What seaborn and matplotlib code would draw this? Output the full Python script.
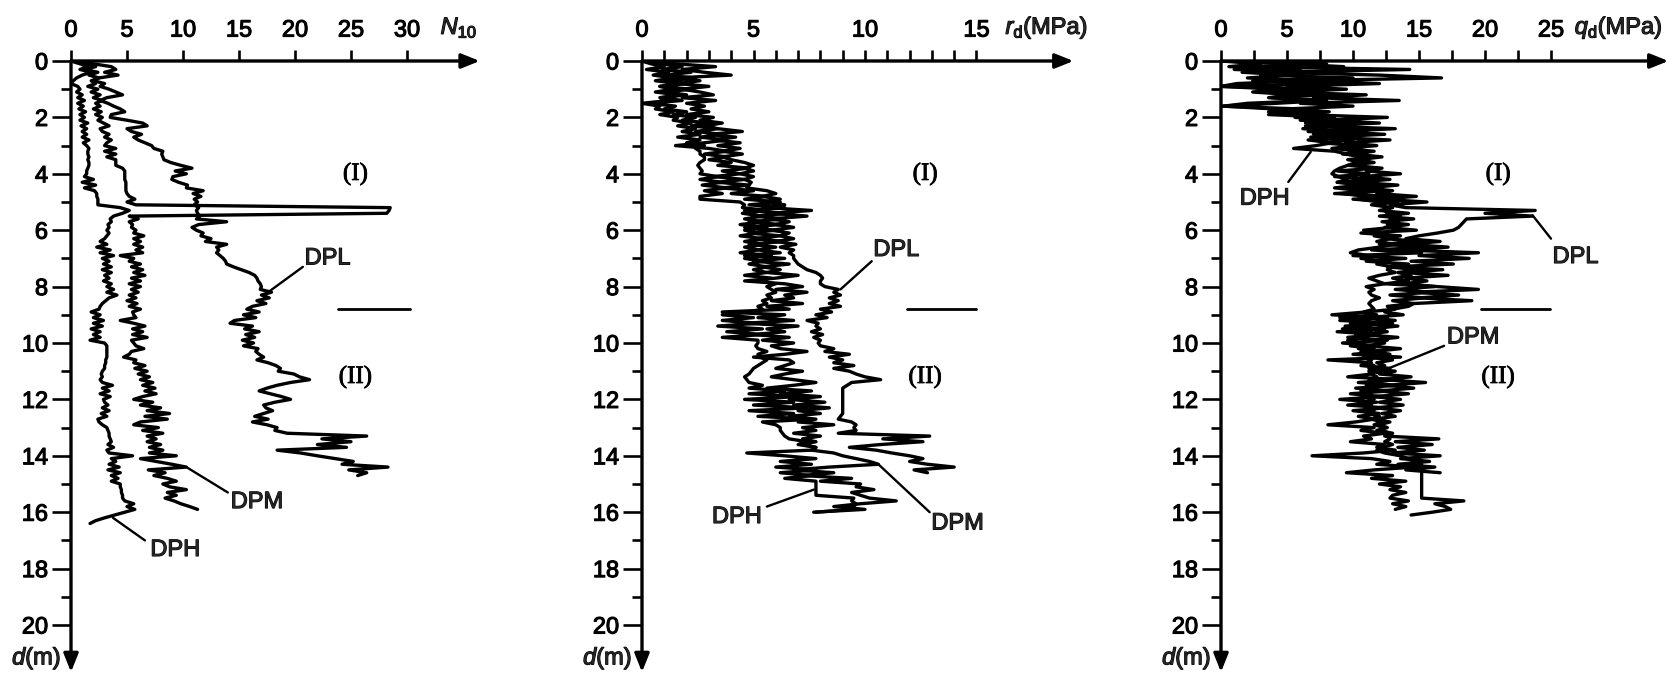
import numpy as np
import matplotlib
matplotlib.use("Agg")
import matplotlib.pyplot as plt
import matplotlib.patheffects as pe
import seaborn as sns

# profiles read every 0.1 m from the surface
DEPTH_STEP = 0.1

# N10 (blows)
n10_dpl = [0.3, 2.0, 3.6, 4.0, 3.0, 4.2, 2.5, 2.0, 3.0, 2.6,
           3.4, 4.0, 4.6, 3.2, 2.6, 3.3, 3.8, 4.4, 4.8, 3.6,
           3.5, 5.0, 6.4, 6.8, 5.0, 5.4, 6.3, 5.6, 6.0, 6.6,
           7.2, 7.4, 8.2, 8.1, 8.2, 8.3, 8.9, 9.8, 10.8, 9.3,
           10.3, 9.1, 9.0, 9.6, 10.4, 10.3, 11.8, 10.9, 11.6, 11.0,
           11.3, 11.0, 11.4, 11.2, 11.3, 11.5, 11.2, 13.9, 11.4, 10.8,
           11.2, 11.8, 11.6, 12.5, 12.0, 13.9, 13.0, 13.2, 13.0, 13.3,
           13.6, 13.8, 13.9, 14.5, 15.2, 15.9, 16.4, 16.6, 16.7, 16.9,
           17.0, 16.9, 17.9, 17.0, 17.7, 16.6, 17.4, 16.2, 15.7, 16.8,
           15.4, 16.5, 14.6, 14.2, 16.2, 15.5, 16.8, 15.6, 16.4, 15.3,
           16.3, 15.4, 16.7, 16.5, 16.8, 17.2, 16.6, 17.6, 18.3, 18.7,
           18.5, 19.9, 20.4, 21.3, 19.6, 18.4, 17.5, 16.8, 17.8, 18.8,
           19.6, 18.2, 17.2, 17.4, 18.0, 17.2, 16.4, 17.6, 16.2, 17.5,
           18.4, 18.2, 19.3, 26.4, 22.4, 25.0, 22.0, 24.6, 18.4, 20.5,
           22.0, 23.6, 25.2, 24.2, 28.3, 24.8, 26.4, 25.6]
n10_dpm = [0.2, 1.5, 2.2, 1.2, 2.4, 1.6, 2.5, 1.8, 2.2, 1.5,
           2.4, 1.8, 2.6, 2.0, 2.8, 2.2, 2.6, 2.0, 2.7, 2.2,
           2.8, 2.4, 2.9, 3.4, 2.6, 2.8, 3.4, 3.0, 3.6, 3.2,
           3.0, 4.0, 3.0, 4.0, 3.2, 4.0, 4.0, 4.0, 4.6, 4.8,
           4.8, 4.8, 4.8, 4.9, 4.9, 4.9, 4.9, 5.0, 5.2, 5.7,
           5.0, 5.8, 28.5, 28.4, 28.2, 5.2, 6.0, 5.2, 5.5, 5.4,
           5.8, 5.6, 6.5, 5.6, 6.2, 5.6, 6.4, 5.8, 6.4, 4.4,
           5.6, 5.2, 6.2, 5.4, 6.4, 5.6, 6.6, 5.4, 6.2, 5.2,
           6.2, 5.4, 6.0, 5.2, 5.8, 5.0, 5.9, 5.2, 6.2, 5.5,
           5.6, 5.8, 4.4, 5.6, 6.6, 5.5, 6.4, 5.5, 6.8, 5.4,
           5.6, 5.8, 6.5, 5.4, 5.2, 4.7, 5.8, 5.6, 6.6, 5.7,
           6.8, 6.0, 7.0, 6.2, 7.3, 6.4, 7.5, 6.6, 7.6, 6.4,
           5.6, 7.3, 6.2, 8.0, 6.8, 8.8, 6.6, 8.6, 6.2, 5.6,
           7.8, 6.4, 8.2, 6.8, 7.6, 6.8, 8.0, 7.0, 8.2, 7.0,
           9.4, 6.2, 7.6, 9.0, 10.3, 6.9, 8.4, 7.4, 8.6, 9.4,
           8.2, 8.8, 10.3, 8.6, 9.4, 8.4, 9.2, 9.8, 10.6, 11.3]
n10_dph = [0.0, 0.8, 1.5, 0.8, 1.8, 1.0, 0.5, 0.2, 0.0, 0.6,
           0.8, 0.5, 1.0, 0.6, 1.2, 0.6, 1.1, 0.7, 1.3, 0.8,
           1.2, 0.8, 1.5, 0.9, 1.4, 1.0, 1.4, 1.0, 1.6, 1.1,
           1.4, 1.6, 1.5, 1.5, 1.6, 1.5, 1.6, 1.6, 1.5, 1.4,
           1.4, 1.2, 2.0, 1.0, 2.2, 1.2, 2.1, 2.3, 2.3, 2.4,
           2.4, 2.4, 4.4, 5.2, 4.6, 3.8, 3.5, 3.6, 3.3, 3.4,
           3.2, 3.4, 3.2, 3.0, 2.6, 3.2, 2.3, 3.5, 2.6, 3.8,
           2.8, 3.4, 2.9, 3.6, 2.8, 3.6, 3.0, 3.4, 2.9, 3.6,
           3.2, 3.8, 3.2, 4.1, 3.4, 3.1, 2.8, 2.6, 2.5, 1.8,
           2.6, 2.0, 2.9, 2.0, 2.8, 1.8, 2.6, 2.0, 2.6, 1.7,
           3.0, 3.2, 3.2, 3.2, 3.2, 3.2, 3.1, 3.1, 3.0, 3.0,
           2.8, 2.7, 2.8, 2.6, 2.8, 3.7, 2.8, 3.4, 2.6, 3.5,
           2.9, 3.0, 3.3, 2.8, 3.4, 2.7, 3.2, 2.4, 2.5, 2.8,
           3.2, 3.3, 3.4, 3.4, 3.5, 3.6, 3.3, 3.8, 3.2, 3.4,
           5.5, 3.6, 4.0, 3.4, 4.3, 3.3, 4.4, 3.6, 4.2, 3.6,
           4.4, 4.4, 4.5, 4.5, 4.6, 4.6, 4.8, 5.6, 5.0, 5.7,
           4.8, 3.9, 3.0, 2.2, 1.7]

# rd (MPa)
rd_dpl = [0.2, 1.5, 3.3, 1.8, 2.8, 4.0, 1.5, 2.6, 1.6, 3.0,
          1.8, 2.6, 3.2, 1.8, 3.3, 2.0, 2.8, 2.2, 3.0, 2.0,
          3.2, 2.6, 3.6, 2.8, 3.4, 4.5, 3.0, 4.2, 3.2, 4.4,
          3.4, 4.4, 3.6, 4.5, 3.6, 4.0, 4.6, 5.0, 4.6, 5.0,
          4.4, 5.0, 4.6, 4.9, 4.8, 4.7, 5.6, 6.0, 5.4, 6.2,
          5.4, 6.4, 5.6, 7.6, 5.8, 7.4, 5.8, 6.6, 6.0, 6.8,
          5.8, 6.6, 6.2, 6.8, 6.0, 6.9, 6.2, 6.8, 6.6, 6.8,
          6.8, 6.9, 7.0, 7.2, 7.4, 7.8, 8.0, 8.1, 8.0, 8.0,
          8.2, 8.8, 8.6, 8.9, 8.4, 8.8, 8.4, 8.9, 8.0, 8.5,
          7.8, 8.3, 7.4, 7.9, 7.8, 8.0, 7.6, 8.1, 7.7, 8.0,
          7.9, 8.0, 8.6, 8.2, 9.3, 8.4, 9.0, 8.6, 9.5, 8.6,
          9.3, 9.6, 10.0, 10.7, 9.4, 9.2, 9.0, 9.0, 9.0, 9.0,
          9.0, 9.0, 9.0, 9.0, 9.0, 9.0, 8.9, 8.8, 9.4, 9.6,
          9.5, 9.6, 8.8, 12.9, 10.8, 12.6, 10.7, 9.3, 10.5, 11.2,
          12.0, 12.6, 12.0, 12.8, 14.0, 12.2, 12.8]
rd_dpm = [0.0, 0.8, 1.8, 0.9, 2.2, 1.0, 2.4, 1.2, 2.0, 0.8,
          2.2, 1.0, 2.0, 0.9, 1.8, 0.3, 1.5, 1.0, 2.0, 1.4,
          2.4, 1.8, 3.0, 2.2, 3.4, 2.4, 3.6, 2.6, 3.8, 2.8,
          1.5, 3.0, 3.8, 2.8, 3.8, 3.0, 4.0, 3.4, 4.8, 3.6,
          4.4, 3.2, 4.6, 3.4, 4.8, 3.6, 5.0, 4.0, 5.6, 4.6,
          6.2, 4.8, 6.4, 4.6, 6.6, 5.0, 6.4, 4.8, 6.2, 4.6,
          6.0, 4.8, 6.2, 5.0, 6.4, 4.8, 6.0, 5.2, 6.2, 4.6,
          6.4, 5.0, 6.6, 5.4, 6.2, 5.6, 7.0, 6.0, 4.6, 6.4,
          7.2, 6.0, 7.4, 6.4, 6.8, 5.8, 7.2, 5.6, 6.6, 3.6,
          6.4, 5.2, 6.8, 4.6, 7.0, 5.6, 6.4, 5.0, 6.6, 5.4,
          6.8, 5.8, 6.2, 7.4, 6.4, 5.0, 6.6, 6.8, 6.4, 6.0,
          7.2, 6.4, 5.8, 6.8, 7.8, 6.8, 5.6, 7.6, 6.2, 8.0,
          6.6, 8.2, 6.8, 8.4, 7.0, 8.0, 6.6, 7.8, 7.0, 8.6,
          7.2, 7.8, 6.8, 8.0, 7.2, 7.8, 7.2, 7.8, 7.6, 8.6,
          9.0, 9.6, 10.2, 10.6, 8.4, 6.8, 8.6, 7.2, 9.4, 8.0,
          9.8, 9.6, 10.4, 9.4, 9.8, 10.2, 11.4, 9.8, 8.6, 10.0,
          7.7]
rd_dph = [0.0, 0.4, 1.0, 0.2, 1.2, 0.5, 1.4, 0.6, 1.6, 0.8,
          1.4, 0.6, 1.6, 0.8, 1.2, 0.0, 0.8, 0.6, 1.4, 0.8,
          1.6, 1.4, 2.2, 1.6, 2.4, 1.8, 2.6, 1.6, 2.6, 2.0,
          2.8, 2.4, 2.6, 2.6, 2.8, 2.8, 2.6, 2.5, 2.6, 2.7,
          2.6, 3.4, 2.6, 3.6, 2.7, 3.8, 2.8, 3.6, 2.6, 2.6,
          4.4, 4.6, 4.5, 5.6, 4.5, 5.4, 4.6, 5.4, 4.4, 5.6,
          4.6, 5.2, 4.4, 5.4, 4.6, 5.6, 4.6, 5.2, 4.4, 5.8,
          4.6, 5.4, 4.8, 5.6, 5.0, 5.6, 4.6, 5.8, 5.2, 6.0,
          5.6, 5.8, 6.0, 5.6, 5.8, 5.4, 5.6, 5.2, 5.4, 4.8,
          3.6, 5.0, 3.6, 5.2, 3.4, 5.4, 3.8, 5.4, 3.6, 5.2,
          5.2, 5.1, 5.2, 5.6, 5.2, 5.3, 5.6, 5.4, 5.2, 5.0,
          4.9, 4.8, 4.6, 4.7, 4.8, 5.4, 4.8, 6.4, 4.8, 7.0,
          4.6, 6.8, 5.0, 7.4, 4.8, 6.8, 5.2, 7.6, 5.4, 6.0,
          6.2, 6.2, 6.3, 6.4, 6.6, 7.4, 7.0, 7.8, 7.6, 4.7,
          6.4, 7.8, 6.2, 7.6, 6.0, 7.8, 6.2, 7.6, 6.4, 7.8,
          7.8, 7.8, 7.8, 7.8, 7.8, 9.5, 9.4, 9.6, 9.5, 9.4,
          7.8]

# qd (MPa)
qd_dpl = [0.5, 8.0, 2.0, 14.3, 4.0, 12.0, 16.7, 6.0, 12.0, 5.0,
          9.5, 4.6, 11.0, 7.0, 13.5, 6.0, 10.0, 5.0, 8.2, 6.0,
          12.6, 8.0, 12.0, 7.0, 13.2, 8.6, 12.4, 7.8, 12.8, 9.4,
          11.8, 9.2, 11.6, 10.0, 12.2, 10.4, 11.6, 9.6, 12.2, 11.0,
          13.6, 10.6, 12.8, 10.2, 13.4, 11.0, 13.0, 11.8, 14.8, 12.0,
          15.6, 12.8, 14.0, 23.8, 20.0, 23.6, 18.6, 18.4, 18.2, 18.0,
          17.6, 16.4, 15.0, 14.0, 16.6, 14.0, 17.2, 13.6, 19.5, 15.0,
          18.8, 14.4, 17.6, 13.0, 16.8, 13.8, 17.2, 14.0, 15.6, 13.8,
          16.4, 19.5, 14.6, 18.0, 15.0, 19.0, 14.6, 14.2, 13.0, 12.4,
          13.8, 11.0, 13.2, 10.6, 13.4, 11.2, 12.6, 10.8, 13.4, 11.4,
          12.4, 11.0, 13.6, 11.6, 12.8, 11.2, 13.0, 11.8, 12.4, 11.4,
          13.2, 12.0, 14.4, 12.2, 15.5, 12.6, 14.6, 12.0, 14.2, 11.6,
          13.6, 12.0, 13.8, 11.8, 13.6, 12.2, 13.2, 11.6, 12.8, 12.0,
          12.6, 11.8, 13.0, 12.4, 16.5, 13.2, 16.0, 13.4, 15.4, 13.0,
          16.6, 13.6, 15.8, 13.4, 16.2, 14.0, 16.6]
qd_dpm = [0.2, 5.0, 9.3, 1.0, 7.6, 3.0, 10.0, 2.4, 8.6, 0.0,
          6.6, 3.2, 8.0, 3.8, 7.0, 2.0, 0.2, 4.0, 7.2, 3.6,
          8.6, 6.0, 10.4, 6.4, 11.4, 6.6, 10.6, 6.8, 10.0, 7.6,
          10.2, 8.4, 10.8, 9.2, 11.6, 9.6, 11.0, 10.0, 11.8, 8.8,
          11.2, 8.6, 11.8, 8.8, 12.0, 9.0, 12.4, 8.6, 13.0, 10.0,
          13.4, 11.4, 13.0, 12.0, 14.2, 12.0, 14.6, 12.2, 14.2, 12.4,
          14.8, 10.6, 13.6, 12.4, 15.2, 12.0, 16.0, 11.4, 15.2, 10.0,
          14.0, 11.0, 14.2, 12.6, 15.0, 13.4, 14.4, 13.0, 14.2, 12.4,
          16.2, 13.2, 15.8, 12.8, 15.4, 13.0, 14.6, 12.6, 13.2, 11.0,
          8.4, 12.6, 9.0, 13.0, 9.4, 12.4, 8.8, 12.0, 9.6, 12.6,
          9.2, 11.8, 10.4, 12.4, 10.0, 13.6, 8.1, 11.4, 10.6, 12.8,
          11.2, 11.4, 9.6, 13.6, 10.4, 13.4, 10.2, 12.8, 9.8, 12.2,
          9.0, 11.8, 9.6, 12.4, 10.0, 12.0, 10.4, 11.6, 10.2, 8.1,
          11.6, 10.6, 12.4, 10.8, 11.4, 9.8, 12.4, 11.8, 13.2, 10.8,
          6.9, 11.4, 12.8, 11.8, 14.6, 11.6, 9.5, 13.0, 11.4, 14.0,
          12.0, 13.6, 12.8, 14.0, 13.0, 12.8, 14.2, 13.0, 14.0, 13.2]
qd_dph = [0.0, 3.0, 0.6, 6.0, 1.6, 5.4, 2.0, 6.4, 1.2, 0.0,
          4.4, 2.4, 5.6, 3.6, 8.0, 4.2, 0.0, 6.0, 3.6, 7.4,
          5.6, 9.2, 6.4, 9.6, 6.2, 9.0, 7.0, 10.2, 6.6, 8.4,
          7.2, 5.5, 8.6, 9.6, 10.4, 11.2, 10.2, 9.6, 9.0, 8.6,
          8.4, 8.9, 9.6, 8.8, 10.6, 8.6, 10.8, 9.2, 11.0, 10.4,
          12.0, 12.2, 12.6, 12.4, 12.6, 13.6, 12.8, 13.4, 12.6, 13.0,
          10.8, 12.6, 11.6, 12.8, 11.8, 13.2, 12.0, 10.4, 9.8, 11.2,
          10.6, 12.4, 11.8, 13.0, 12.6, 13.2, 12.0, 11.2, 11.8, 12.4,
          11.0, 11.6, 11.2, 11.4, 12.0, 11.4, 11.2, 11.4, 11.6, 10.8,
          11.8, 9.0, 11.2, 9.8, 10.8, 9.2, 11.4, 10.2, 11.0, 9.6,
          10.6, 9.8, 11.6, 10.6, 11.2, 10.8, 11.4, 11.0, 11.6, 11.2,
          11.8, 11.4, 11.8, 11.2, 11.6, 11.0, 11.8, 10.6, 11.4, 10.8,
          11.6, 10.8, 11.4, 11.0, 11.6, 11.2, 12.0, 11.4, 12.2, 11.6,
          12.4, 12.2, 12.8, 12.6, 12.8, 12.4, 13.0, 12.2, 11.8, 12.4,
          13.6, 14.2, 14.8, 15.2, 15.2, 15.2, 15.2, 15.2, 15.2, 15.2,
          15.2, 15.2, 15.2, 15.2, 15.2, 15.2, 18.4, 16.2, 17.0, 17.4,
          16.0, 14.4]

depth_ticks = list(range(0, 21, 2))
depth_minor = list(range(1, 20, 2))

sns.set_theme(style="white")
plt.rcParams["font.family"] = ["Liberation Sans", "DejaVu Sans"]
plt.rcParams["mathtext.fontset"] = "custom"
plt.rcParams["mathtext.rm"] = "Liberation Sans"
plt.rcParams["mathtext.it"] = "Liberation Sans:italic"

W, H = 1677, 675
Y0_PX, Y_UNIT, Y_MAX = 61, 28.2, 21.67
FS = 17
heavy = [pe.withStroke(linewidth=0.8, foreground="black")]
heavy_serif = [pe.withStroke(linewidth=0.6, foreground="black")]

fig = plt.figure(figsize=(W / 100, H / 100), dpi=100)

panels = [
    dict(x0=71, unit=11.2, xmax=36.5, series=[n10_dpl, n10_dpm, n10_dph],
         ticks=[0, 5, 10, 15, 20, 25, 30], label_every=5,
         name=r"$N_{10}$", name_x=33.0,
         bound=(23.8, 30.3), roman_x=25.4,
         notes=[("DPL", (22.9, 7.0), (20.7, 7.3), (17.6, 8.2)),
                ("DPM", (16.6, 15.64), (14.0, 15.3), (10.3, 14.4)),
                ("DPH", (9.3, 17.34), (6.6, 17.0), (3.75, 16.2))]),
    dict(x0=642, unit=22.3, xmax=19.35, series=[rd_dpl, rd_dpm, rd_dph],
         ticks=list(range(0, 16)), label_every=5,
         name=r"$r_{\rm d}$(MPa)", name_x=16.3,
         bound=(11.87, 15.0), roman_x=12.7,
         notes=[("DPL", (11.4, 6.7), (10.3, 7.1), (8.9, 8.1)),
                ("DPH", (4.25, 16.17), (5.6, 15.8), (7.7, 15.2)),
                ("DPM", (14.15, 16.4), (12.9, 16.0), (10.6, 14.3))]),
    dict(x0=1221, unit=13.2, xmax=33.9, series=[qd_dpl, qd_dpm, qd_dph],
         ticks=[i * 2.5 for i in range(11)], label_every=5,
         name=r"$q_{\rm d}$(MPa)", name_x=26.8,
         bound=(19.7, 24.9), roman_x=21.0,
         notes=[("DPH", (3.3, 4.88), (5.1, 4.29), (6.8, 3.22)),
                ("DPL", (26.85, 6.95), (25.0, 6.3), (23.6, 5.47)),
                ("DPM", (19.1, 9.8), (16.9, 10.1), (11.8, 11.07))]),
]

for p in panels:
    rect = [p["x0"] / W, (H - (Y0_PX + Y_MAX * Y_UNIT)) / H,
            p["xmax"] * p["unit"] / W, Y_MAX * Y_UNIT / H]
    ax = fig.add_axes(rect)
    for vals in p["series"]:
        depth = np.arange(len(vals)) * DEPTH_STEP
        sns.lineplot(x=vals, y=depth, sort=False, estimator=None,
                     color="black", linewidth=2.4, ax=ax)
    ax.set_xlim(0, p["xmax"])
    ax.set_ylim(Y_MAX, 0)
    ax.set_xlabel("")
    ax.set_ylabel("")
    for s in ax.spines.values():
        s.set_visible(False)

    # axes drawn as arrows
    arrow = dict(arrowstyle="-|>,head_length=0.55,head_width=0.22", color="black",
                 lw=2.4, mutation_scale=20, shrinkA=0, shrinkB=0)
    ax.annotate("", xy=(1, 1), xytext=(0, 1), xycoords="axes fraction", arrowprops=arrow)
    ax.annotate("", xy=(0, 0), xytext=(0, 1), xycoords="axes fraction", arrowprops=arrow)

    ax.xaxis.tick_top()
    ax.set_xticks(p["ticks"])
    ax.set_xticklabels([f"{t:g}" if t % p["label_every"] == 0 else "" for t in p["ticks"]])
    ax.tick_params(axis="x", which="major", top=True, bottom=False, direction="out",
                   length=8, width=1.9, pad=6, labelsize=FS, colors="black")
    ax.set_yticks(depth_ticks)
    ax.set_yticks(depth_minor, minor=True)
    ax.tick_params(axis="y", which="major", left=True, direction="out",
                   length=13.5, width=1.9, pad=3, labelsize=FS, colors="black")
    ax.tick_params(axis="y", which="minor", left=True, direction="out",
                   length=7, width=1.9, colors="black")
    for lbl in ax.get_xticklabels() + ax.get_yticklabels():
        lbl.set_path_effects(heavy)

    ax.annotate(p["name"], xy=(p["name_x"], 0), xytext=(0, 19.5), textcoords="offset points",
                ha="left", va="baseline", fontsize=FS, annotation_clip=False,
                path_effects=heavy)
    ax.annotate(r"$d$(m)", xy=(0, 21.17), xytext=(-7, 0), textcoords="offset points",
                ha="right", va="center", fontsize=FS, annotation_clip=False,
                path_effects=heavy)

    # layer boundary and layer names
    ax.plot(p["bound"], [8.78, 8.78], color="black", lw=2.0)
    for txt, dep in (("(I)", 4.0), ("(II)", 11.2)):
        ax.text(p["roman_x"], dep, txt, family="Liberation Serif", fontsize=18,
                color="black", ha="center", va="center", path_effects=heavy_serif)

    for label, txt_xy, a, b in p["notes"]:
        ax.plot([a[0], b[0]], [a[1], b[1]], color="black", lw=1.7)
        ax.text(txt_xy[0], txt_xy[1], label, fontsize=FS, ha="center", va="center",
                path_effects=heavy)

fig.savefig("out.png", dpi=100)
